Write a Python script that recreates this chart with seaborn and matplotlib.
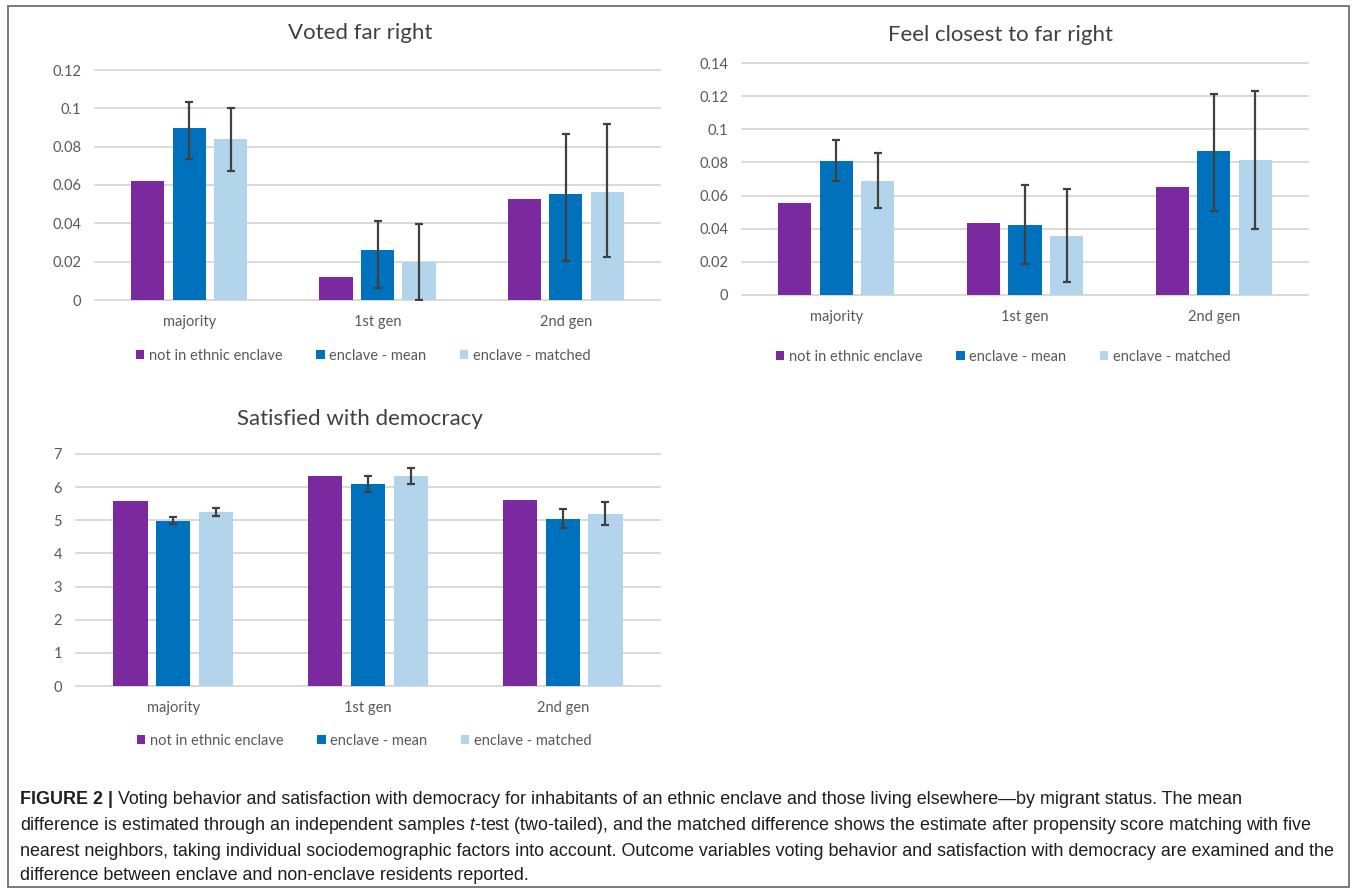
import matplotlib
matplotlib.use("Agg")
import matplotlib.pyplot as plt
from matplotlib.patches import Patch, Rectangle
from matplotlib.ticker import FuncFormatter
import numpy as np
import pandas as pd
import seaborn as sns

# ---- data -------------------------------------------------------------
groups = ["majority", "1st gen", "2nd gen"]
series_names = ["not in ethnic enclave", "enclave - mean", "enclave - matched"]
colors = ["#7A2A9E", "#0071BC", "#B2D5EC"]

# Voted far right
vote_not = [0.0623, 0.0118, 0.0528]
vote_mean = [0.0899, 0.0263, 0.0551]
vote_mean_lo = [0.0737, 0.0064, 0.0203]
vote_mean_hi = [0.1034, 0.0414, 0.0866]
vote_matched = [0.0838, 0.0197, 0.0566]
vote_matched_lo = [0.0674, 0.0, 0.0222]
vote_matched_hi = [0.1001, 0.0398, 0.0918]

# Feel closest to far right
close_not = [0.0558, 0.0432, 0.0653]
close_mean = [0.0809, 0.0420, 0.0866]
close_mean_lo = [0.0687, 0.0185, 0.0508]
close_mean_hi = [0.0934, 0.0663, 0.1215]
close_matched = [0.0687, 0.0355, 0.0813]
close_matched_lo = [0.0528, 0.0078, 0.0396]
close_matched_hi = [0.0854, 0.0637, 0.1233]

# Satisfied with democracy
demo_not = [5.59, 6.35, 5.62]
demo_mean = [4.99, 6.10, 5.05]
demo_mean_lo = [4.88, 5.85, 4.76]
demo_mean_hi = [5.10, 6.33, 5.35]
demo_matched = [5.24, 6.33, 5.18]
demo_matched_lo = [5.12, 6.08, 4.86]
demo_matched_hi = [5.38, 6.59, 5.55]

caption_lines = [
    "Voting behavior and satisfaction with democracy for inhabitants of an ethnic enclave and those living elsewhere\u2014by migrant status. The mean",
    r"difference is estimated through an independent samples $\mathit{t}$-test (two-tailed), and the matched difference shows the estimate after propensity score matching with five",
    "nearest neighbors, taking individual sociodemographic factors into account. Outcome variables voting behavior and satisfaction with democracy are examined and the",
    "difference between enclave and non-enclave residents reported.",
]

# ---- style ------------------------------------------------------------
sns.set_theme(style="white")
plt.rcParams["font.family"] = ["Lato", "DejaVu Sans"]
plt.rcParams["mathtext.fontset"] = "custom"
plt.rcParams["mathtext.rm"] = "Liberation Sans"
plt.rcParams["mathtext.it"] = "Liberation Sans:italic"
plt.rcParams["mathtext.bf"] = "Liberation Sans:bold"

W, H = 1356, 889
fig = plt.figure(figsize=(W / 100, H / 100), dpi=100)
fig.patch.set_facecolor("white")

TICK_COLOR = "#595959"
GRID_COLOR = "#D9D9D9"
ERR_COLOR = "#404040"


def px_rect(x0, y0, x1, y1):
    return [x0 / W, 1 - y1 / H, (x1 - x0) / W, (y1 - y0) / H]


def fmt_tick(v, _pos):
    return f"{round(v, 4):g}"


def draw_panel(rect, title, title_xy, ymax, ystep, nots, means, mean_lo, mean_hi,
               matched, matched_lo, matched_hi, legend_xy):
    ax = fig.add_axes(px_rect(*rect))
    df = pd.DataFrame({
        "group": groups * 3,
        "series": [s for s in series_names for _ in groups],
        "value": list(nots) + list(means) + list(matched),
    })
    sns.barplot(data=df, x="group", y="value", hue="series", order=groups,
                hue_order=series_names, palette=colors, width=0.66, gap=0.2,
                errorbar=None, legend=False, saturation=1, linewidth=0,
                ax=ax, zorder=2)

    for cont, vals, lo, hi in [(ax.containers[1], means, mean_lo, mean_hi),
                               (ax.containers[2], matched, matched_lo, matched_hi)]:
        xs = [b.get_x() + b.get_width() / 2 for b in cont]
        v = np.asarray(vals)
        ax.errorbar(xs, v, yerr=[v - np.asarray(lo), np.asarray(hi) - v], fmt="none",
                    ecolor=ERR_COLOR, elinewidth=1.6, capsize=3, capthick=1.6, zorder=3)

    ticks = np.arange(0, ymax + ystep / 2, ystep)
    for t in ticks:
        ax.axhline(t, color=GRID_COLOR, lw=1.4, zorder=0, clip_on=False)
    ax.set_xlim(-0.5, 2.5)
    ax.set_ylim(0, ymax)
    ax.set_yticks(ticks)
    ax.yaxis.set_major_formatter(FuncFormatter(fmt_tick))
    ax.set_xlabel("")
    ax.set_ylabel("")
    for s in ax.spines.values():
        s.set_visible(False)
    ax.tick_params(axis="y", length=0, pad=10, labelsize=10.5, labelcolor=TICK_COLOR)
    ax.tick_params(axis="x", length=0, pad=11, labelsize=10.5, labelcolor=TICK_COLOR)

    fig.text(title_xy[0] / W, 1 - title_xy[1] / H, title, ha="center", va="center",
             fontsize=16, color="#404040")

    handles = [Patch(facecolor=c, edgecolor="none") for c in colors]
    fig.legend(handles, series_names, loc="center",
               bbox_to_anchor=(legend_xy[0] / W, 1 - legend_xy[1] / H),
               ncol=3, frameon=False, fontsize=10.5, handlelength=0.6,
               handleheight=0.6, handletextpad=0.3, columnspacing=2.3,
               labelcolor=TICK_COLOR)
    return ax


draw_panel((95, 70, 660, 300), "Voted far right", (360, 33), 0.12, 0.02,
           vote_not, vote_mean, vote_mean_lo, vote_mean_hi,
           vote_matched, vote_matched_lo, vote_matched_hi, (363, 356))
draw_panel((742, 63, 1308, 295), "Feel closest to far right", (1000, 35), 0.14, 0.02,
           close_not, close_mean, close_mean_lo, close_mean_hi,
           close_matched, close_matched_lo, close_matched_hi, (1003, 357))
draw_panel((76, 454, 660, 686), "Satisfied with democracy", (360, 419), 7, 1,
           demo_not, demo_mean, demo_mean_lo, demo_mean_hi,
           demo_matched, demo_matched_lo, demo_matched_hi, (364, 741))

# outer frame
fig.add_artist(Rectangle((8 / W, 1 - 887 / H), (1349 - 8) / W, (887 - 6) / H,
                         transform=fig.transFigure, fill=False,
                         edgecolor="#6E6E6E", lw=1.3))

# caption
CAP_FS = 12.9
CAP_COLOR = "#1E1E1E"
cap_y = [799, 825, 851, 876]
renderer = fig.canvas.get_renderer()
head = fig.text(20 / W, 1 - cap_y[0] / H, "FIGURE 2 |", family="Liberation Sans",
                fontweight="bold", fontsize=CAP_FS, va="center", color=CAP_COLOR)
bb = head.get_window_extent(renderer)
space_px = 0.278 * CAP_FS * 100 / 72
fig.text((bb.x1 + space_px) / W, 1 - cap_y[0] / H, caption_lines[0],
         family="Liberation Sans", fontsize=CAP_FS, va="center", color=CAP_COLOR)
for line, y in zip(caption_lines[1:], cap_y[1:]):
    fig.text(20 / W, 1 - y / H, line, family="Liberation Sans", fontsize=CAP_FS,
             va="center", color=CAP_COLOR)

fig.savefig("out.png", dpi=100, facecolor="white")
